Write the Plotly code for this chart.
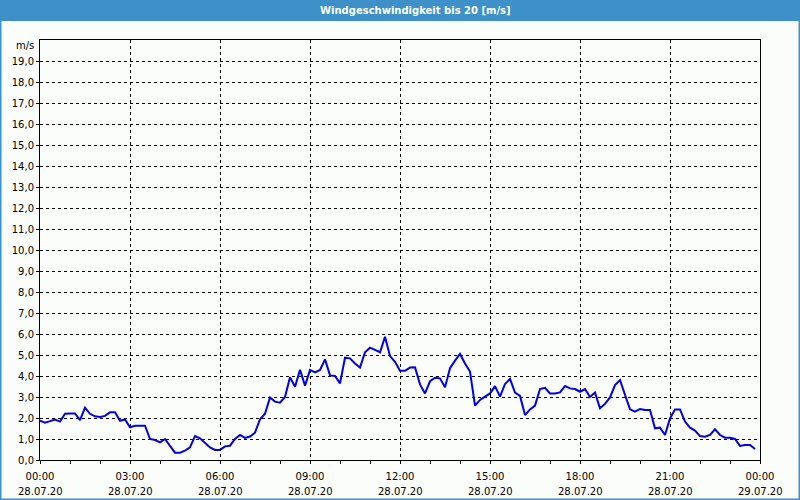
import pandas as pd
import plotly.graph_objects as go

TITLE = "Windgeschwindigkeit bis 20 [m/s]"
UNIT = "m/s"

START = "2020-07-28 00:00"
END = "2020-07-29 00:00"

# wind speed [m/s], 10-minute values from 00:00 to 23:50
WIND = [
    1.87, 1.78, 1.85, 1.93, 1.83, 2.20, 2.22, 2.22, 1.90, 2.49, 2.20, 2.08,
    2.05, 2.10, 2.27, 2.27, 1.87, 1.93, 1.56, 1.63, 1.63, 1.63, 1.00, 0.95,
    0.84, 1.00, 0.67, 0.35, 0.35, 0.45, 0.60, 1.14, 1.03, 0.80, 0.60, 0.48,
    0.48, 0.65, 0.68, 1.00, 1.19, 1.05, 1.12, 1.30, 1.94, 2.20, 2.98, 2.78,
    2.73, 3.00, 3.94, 3.49, 4.29, 3.54, 4.29, 4.17, 4.29, 4.79, 4.03, 4.00,
    3.65, 4.87, 4.84, 4.60, 4.40, 5.13, 5.35, 5.24, 5.13, 5.87, 4.95, 4.68,
    4.25, 4.25, 4.40, 4.41, 3.60, 3.17, 3.75, 3.92, 3.89, 3.46, 4.37, 4.73,
    5.05, 4.60, 4.21, 2.59, 2.86, 3.02, 3.17, 3.52, 3.02, 3.62, 3.86, 3.21,
    3.05, 2.14, 2.41, 2.59, 3.38, 3.44, 3.17, 3.17, 3.22, 3.52, 3.41, 3.38,
    3.25, 3.38, 3.00, 3.21, 2.46, 2.67, 2.98, 3.57, 3.81, 3.10, 2.41, 2.30,
    2.43, 2.38, 2.38, 1.51, 1.54, 1.19, 1.98, 2.41, 2.41, 1.83, 1.54, 1.40,
    1.14, 1.11, 1.19, 1.46, 1.19, 1.06, 1.06, 1.00, 0.67, 0.71, 0.71, 0.52,
]
TIMES = pd.date_range(START, periods=len(WIND), freq="10min")

X_TICKVALS = pd.date_range(START, END, freq="3h")
X_TIME_LABELS = ["00:00", "03:00", "06:00", "09:00", "12:00", "15:00", "18:00", "21:00", "00:00"]
X_DATE_LABELS = ["28.07.20"] * 8 + ["29.07.20"]

Y_TICKVALS = list(range(0, 20))
Y_TICKTEXT = [f"{v},0" for v in Y_TICKVALS]

BLUE_BAR = "#3d91c8"
BG = "#fafdfa"
FONT = "DejaVu Sans"

fig = go.Figure()
fig.add_trace(go.Scatter(
    x=TIMES, y=WIND, mode="lines",
    line=dict(color="#0000e8", width=2),
    hoverinfo="skip", showlegend=False,
))

fig.update_layout(
    width=800, height=500,
    margin=dict(l=40, r=40, t=40, b=40),
    paper_bgcolor=BG, plot_bgcolor=BG,
    font=dict(family=FONT, size=10, color="black"),
    showlegend=False,
)

fig.update_xaxes(
    range=[START, END],
    tickmode="array", tickvals=X_TICKVALS, ticktext=X_TIME_LABELS,
    showgrid=True, gridcolor="black", gridwidth=1, griddash="3px,3px",
    showline=True, linecolor="black", linewidth=1, mirror=True,
    ticks="outside", ticklen=3, tickcolor="black",
    ticklabelstandoff=4,
    minor=dict(dtick=3600000, ticks="outside", ticklen=3, tickcolor="black", showgrid=False),
    zeroline=False,
    tickfont=dict(family=FONT, size=10),
)
fig.update_yaxes(
    range=[0, 20],
    tickmode="array", tickvals=Y_TICKVALS, ticktext=Y_TICKTEXT,
    showgrid=True, gridcolor="black", gridwidth=1, griddash="3px,3px",
    showline=True, linecolor="black", linewidth=1, mirror=True,
    ticks="outside", ticklen=3, tickcolor="black",
    zeroline=False,
    tickfont=dict(family=FONT, size=10),
)

# date line under each time tick label
for tv, dl in zip(X_TICKVALS, X_DATE_LABELS):
    fig.add_annotation(
        x=tv, xref="x", y=0, yref="paper", yanchor="middle",
        yshift=-31, text=dl, showarrow=False,
        font=dict(family=FONT, size=10, color="black"),
    )

W, H = 720.0, 420.0
# title bar
fig.add_shape(type="rect", xref="paper", yref="paper",
              x0=-40 / W, x1=1 + 40 / W, y0=1 + 19 / H, y1=1 + 40 / H,
              fillcolor=BLUE_BAR, line=dict(width=0), layer="below")
# window border
fig.add_shape(type="rect", xref="paper", yref="paper",
              x0=-39.5 / W, x1=1 + 39.5 / W, y0=-39.5 / H, y1=1 + 39.5 / H,
              fillcolor="rgba(0,0,0,0)", line=dict(color=BLUE_BAR, width=2))

fig.add_annotation(
    x=(415 - 40) / W, xref="paper", y=1 + 29.5 / H, yref="paper",
    xanchor="center", yanchor="middle", showarrow=False,
    text=f"<b>{TITLE}</b>", font=dict(family=FONT, size=10, color="white"),
)
fig.add_annotation(
    x=-4 / W, xref="paper", y=(460 - 46) / H, yref="paper",
    xanchor="right", yanchor="middle", showarrow=False,
    text=UNIT, font=dict(family=FONT, size=10, color="black"),
)

fig.write_html("out.html")
